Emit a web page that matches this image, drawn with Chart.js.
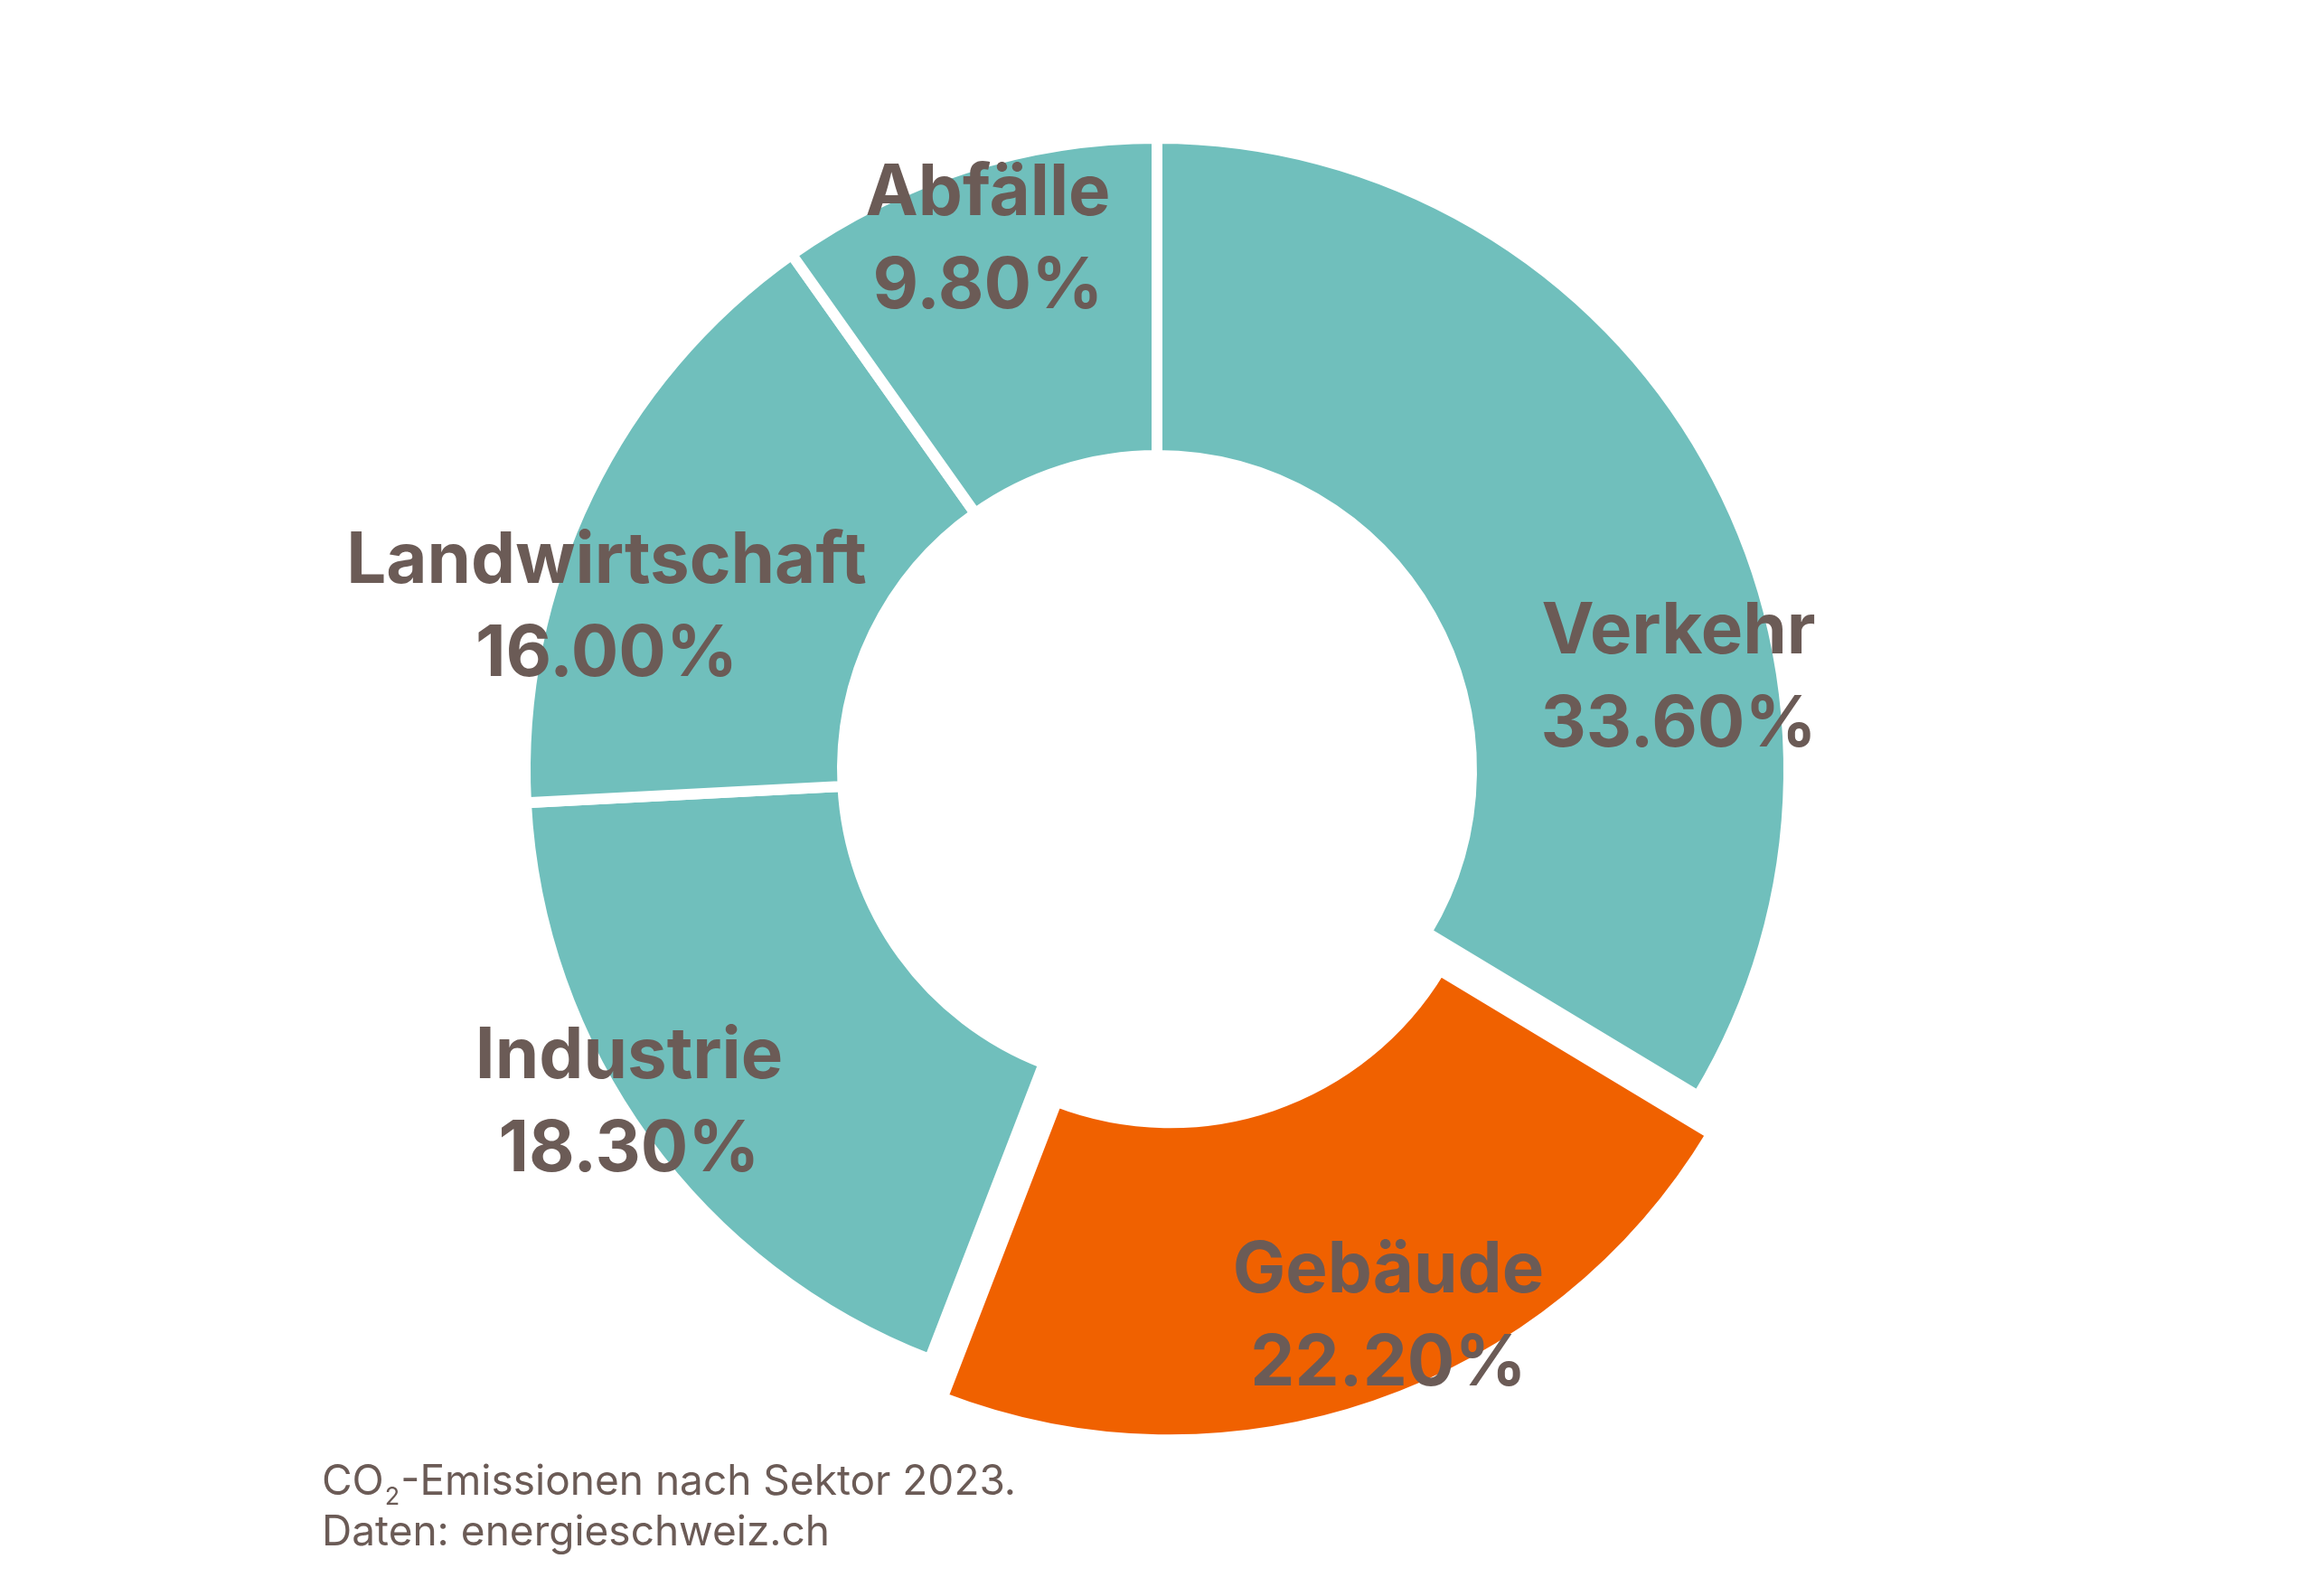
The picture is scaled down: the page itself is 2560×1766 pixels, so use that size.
<html>
<head>
    <script src="https://cdn.jsdelivr.net/npm/chart.js@4/dist/chart.umd.min.js" type="text/javascript"></script>
    <style>
        body {
            margin: 0;
            background: #ffffff;
        }

        #chartcontainer {
            position: relative;
            width: 2560px;
            height: 1766px;
        }
    </style>
</head>
<body>
    <div id="chartcontainer">
        <canvas id="canvas" width="2560" height="1766"></canvas>
    </div>
    <script>
        // CO2 emissions by sector 2023 (share in %)
        var sectors = ['Verkehr', 'Gebäude', 'Industrie', 'Landwirtschaft', 'Abfälle'];
        var shares = [33.6, 22.2, 18.3, 16.0, 9.8];
        var captionLines = ['CO₂-Emissionen nach Sektor 2023.', 'Daten: energieschweiz.ch'];

        var teal = '#70bfbc';
        var orange = '#f06100';
        var textColor = '#6b5b56';

        // Gebäude is highlighted and pulled out of the ring
        var highlight = 'Gebäude';

        // label anchor (name baseline) as a fraction of the outer radius, from the centre
        var labelAnchors = {
            'Verkehr': [0.8255, -0.1845],
            'Gebäude': [0.3662, 0.8269],
            'Industrie': [-0.8355, 0.4878],
            'Landwirtschaft': [-0.8712, -0.2961],
            'Abfälle': [-0.2675, -0.8784]
        };

        var sliceLabels = {
            id: 'sliceLabels',
            afterDatasetsDraw: function (chart) {
                var ctx = chart.ctx;
                var meta = chart.getDatasetMeta(0);
                ctx.save();
                ctx.fillStyle = textColor;
                ctx.textAlign = 'center';
                ctx.textBaseline = 'alphabetic';
                ctx.font = '700 78px Inter';
                meta.data.forEach(function (arc, i) {
                    var p = arc.getProps(['x', 'y', 'outerRadius'], true);
                    var a = labelAnchors[sectors[i]];
                    var x = p.x + a[0] * p.outerRadius;
                    var y = p.y + a[1] * p.outerRadius;
                    ctx.fillText(sectors[i], x, y);
                    ctx.fillText(shares[i].toFixed(2) + '%', x, y + 103);
                });
                ctx.restore();
            }
        };

        var caption = {
            id: 'caption',
            afterDraw: function (chart) {
                var ctx = chart.ctx;
                ctx.save();
                ctx.fillStyle = textColor;
                ctx.textAlign = 'left';
                ctx.textBaseline = 'alphabetic';
                var x0 = 356;
                var base = [1654, 1710];
                captionLines.forEach(function (line, i) {
                    var x = x0;
                    var parts = line.split('₂');
                    parts.forEach(function (part, j) {
                        ctx.font = '400 46px Inter';
                        ctx.fillText(part, x, base[i]);
                        x += ctx.measureText(part).width;
                        if (j < parts.length - 1) {
                            ctx.font = '400 27px Inter';
                            ctx.fillText('2', x + 1, base[i] + 11);
                            x += ctx.measureText('2').width + 2;
                        }
                    });
                });
                ctx.restore();
            }
        };

        var ctx = document.getElementById('canvas').getContext('2d');

        var config = {
            type: 'doughnut',
            data: {
                labels: sectors,
                datasets: [{
                    data: shares,
                    backgroundColor: sectors.map(function (s) { return s === highlight ? orange : teal; }),
                    offset: sectors.map(function (s) { return s === highlight ? 176 : 0; }),
                    hoverOffset: 0,
                    borderColor: '#ffffff',
                    borderWidth: 12
                }]
            },
            options: {
                responsive: false,
                devicePixelRatio: 1,
                animation: false,
                radius: 699,
                cutout: '49.785%',
                layout: {
                    padding: { top: 0, bottom: 62, left: 0, right: 0 }
                },
                plugins: {
                    legend: { display: false },
                    tooltip: { enabled: false }
                }
            },
            plugins: [sliceLabels, caption]
        };

        var chart = new Chart(ctx, config);
    </script>
</body>
</html>
